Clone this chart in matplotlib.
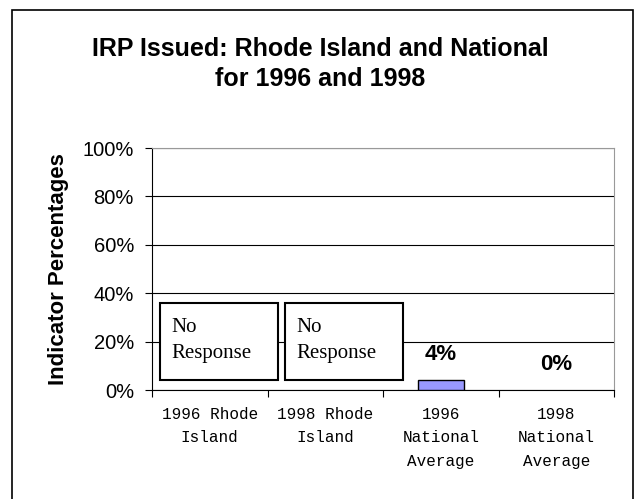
import matplotlib.pyplot as plt
from matplotlib.patches import Rectangle

# Chart data
categories = ["1996 Rhode\nIsland", "1998 Rhode\nIsland", "1996\nNational\nAverage", "1998\nNational\nAverage"]
values = [None, None, 4, 0]
value_labels = ["No\nResponse", "No\nResponse", "4%", "0%"]
yticks = [0, 20, 40, 60, 80, 100]

fig = plt.figure(figsize=(6.39, 4.99), dpi=100)

# outer frame around the chart (bottom edge falls outside the image)
fig.patches.append(Rectangle((12 / 639, -5 / 499), 621 / 639, 494 / 499,
                             transform=fig.transFigure, fill=False,
                             edgecolor="black", linewidth=1.2))

ax = fig.add_axes([152 / 639, 109 / 499, 462 / 639, 242 / 499])
x = list(range(len(categories)))

for i, v in enumerate(values):
    if v is not None:
        # a zero bar shows nothing in the original
        ax.bar(i, v, width=0.4, color="#9999FF", edgecolor="black",
               linewidth=1 if v > 0 else 0, zorder=3)

ax.set_xlim(-0.5, len(categories) - 0.5)
ax.set_ylim(0, 100)
ax.set_yticks(yticks)
ax.set_yticklabels([f"{t}%" for t in yticks], fontsize=14.5, family="Liberation Sans")
ax.yaxis.grid(True, color="black", linewidth=0.8)
ax.set_axisbelow(True)

ax.set_xticks([i - 0.5 for i in range(len(categories) + 1)])
ax.set_xticklabels([])
ax.set_xticks(x, minor=True)
ax.set_xticklabels(categories, minor=True, family="Liberation Mono", fontsize=11.5,
                   linespacing=1.72, va="top")
ax.tick_params(axis="x", which="minor", length=0, pad=12)
ax.tick_params(axis="x", which="major", length=5, direction="out")
ax.tick_params(axis="y", length=5, direction="out", pad=8)

for side in ["top", "right"]:
    ax.spines[side].set_color("#999999")
ax.spines["left"].set_color("black")
ax.spines["bottom"].set_color("black")

ax.set_ylabel("Indicator Percentages", fontsize=16, fontweight="bold",
              family="Liberation Sans", labelpad=10)

# "No Response" boxes for Rhode Island
for i in range(2):
    if values[i] is None:
        ax.add_patch(Rectangle((i - 0.43 + 0.08 * i, 4), 1.02, 32, facecolor="white",
                               edgecolor="black", linewidth=1.5, zorder=4))
        ax.text(i - 0.33 + 0.08 * i, 20.5, value_labels[i], family="Liberation Serif",
                fontsize=15, va="center", ha="left", zorder=5, linespacing=1.45)

# value labels
ax.text(2, 14.5, value_labels[2], ha="center", va="center", fontsize=16,
        fontweight="bold", family="Liberation Sans")
ax.text(3, 10.7, value_labels[3], ha="center", va="center", fontsize=16,
        fontweight="bold", family="Liberation Sans")

fig.text(320 / 639, 1 - 64 / 499, "IRP Issued: Rhode Island and National\nfor 1996 and 1998",
         ha="center", va="center", fontsize=18, fontweight="bold",
         family="Liberation Sans", linespacing=1.3)

fig.savefig("out.png", dpi=100)
